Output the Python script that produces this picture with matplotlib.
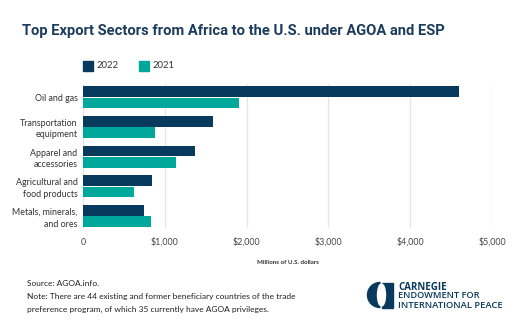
import matplotlib
matplotlib.use("Agg")
import matplotlib.pyplot as plt
from matplotlib.patches import Wedge, Rectangle, Ellipse
import numpy as np

categories = ["Oil and gas", "Transportation\nequipment", "Apparel and\naccessories",
              "Agricultural and\nfood products", "Metals, minerals,\nand ores"]
values_2022 = [4600, 1595, 1375, 840, 747]
values_2021 = [1910, 881, 1134, 624, 832]
series_names = ["2022", "2021"]
xticks = [0, 1000, 2000, 3000, 4000, 5000]
xtick_labels = ["0", "$1,000", "$2,000", "$3,000", "$4,000", "$5,000"]

NAVY = "#083a5e"
TEAL = "#00a79b"
TXT = "#333333"
W, H = 520, 324

fig = plt.figure(figsize=(5.2, 3.24), dpi=100)
renderer = fig.canvas.get_renderer()


def fit_text(t, width_px):
    bb = t.get_window_extent(renderer=renderer)
    t.set_fontsize(t.get_fontsize() * width_px / bb.width)


ax = fig.add_axes([83 / W, 1 - 228 / H, (492 - 83) / W, (228 - 84) / H])

y = np.arange(len(categories))
bh = 0.355
off = 0.19
ax.barh(y - off, values_2022, height=bh, color=NAVY, zorder=3)
ax.barh(y + off, values_2021, height=bh, color=TEAL, zorder=3)
ax.set_xlim(0, 5000)
ax.set_ylim(4.40, -0.444)
ax.set_xticks(xticks)
ax.set_xticklabels(xtick_labels, family="Lato", fontsize=6.4, color="#444444")
ax.set_yticks(y)
ax.set_yticklabels(categories, family="Lato", fontsize=6.4, color=TXT, linespacing=1.35)
ax.tick_params(length=0, pad=4)
ax.tick_params(axis="x", pad=7)
for s in ax.spines.values():
    s.set_visible(False)
ax.xaxis.grid(True, color="#e6e6e6", lw=1, zorder=0)
ax.set_axisbelow(True)

# title
title = fig.text(22 / W, 1 - 31 / H, "Top Export Sectors from Africa to the U.S. under AGOA and ESP",
                 family="Roboto", fontweight="bold", fontsize=12,
                 color="#1d3c5c", va="center", ha="left")
fit_text(title, 423)

# legend
for i, (name, col) in enumerate(zip(series_names, [NAVY, TEAL])):
    x0 = 83 + i * 56
    fig.patches.append(Rectangle((x0 / W, 1 - 71 / H), 10 / W, 10 / H, color=col,
                                 transform=fig.transFigure, figure=fig))
    fig.text((x0 + 14) / W, 1 - 66 / H, name, family="Lato", fontsize=6.8, color=TXT,
             va="center", ha="left")

# x axis title
xt = fig.text(287.5 / W, 1 - 263 / H, "Millions of U.S. dollars", family="Lato", fontweight="bold",
              fontsize=5, color=TXT, ha="center", va="center")
fit_text(xt, 63)

# source / note
notes = ["Source: AGOA.info.",
         "Note: There are 44 existing and former beneficiary countries of the trade",
         "preference program, of which 35 currently have AGOA privileges."]
note_texts = []
for i, t in enumerate(notes):
    note_texts.append(fig.text(27 / W, 1 - (284 + i * 12.5) / H, t, family="Lato", fontsize=6.6,
                               color="#222222", ha="left", va="center"))
fit_text(note_texts[1], 266)
for nt in note_texts:
    nt.set_fontsize(note_texts[1].get_fontsize())

# logo
lax = fig.add_axes([0, 0, 1, 1], zorder=-1)
lax.set_xlim(0, W)
lax.set_ylim(H, 0)
lax.axis("off")
lax.add_patch(Wedge((380, 295), 12.5, 90, 270, color=NAVY))
lax.add_patch(Rectangle((381.5, 282.5), 11, 25, color=NAVY))
lax.add_patch(Ellipse((381.5, 295), 8, 22, color="white"))
logo_lines = [("CARNEGIE", "bold", 287, 49), ("ENDOWMENT FOR", "semibold", 296, 82),
              ("INTERNATIONAL PEACE", "semibold", 305, 105)]
for txt, wt, yy, wpx in logo_lines:
    t = fig.text(398 / W, 1 - yy / H, txt, family="Open Sans", fontweight=wt,
                 fontsize=6, color=NAVY, ha="left", va="center")
    fit_text(t, wpx)

fig.savefig("out.png", dpi=100)
